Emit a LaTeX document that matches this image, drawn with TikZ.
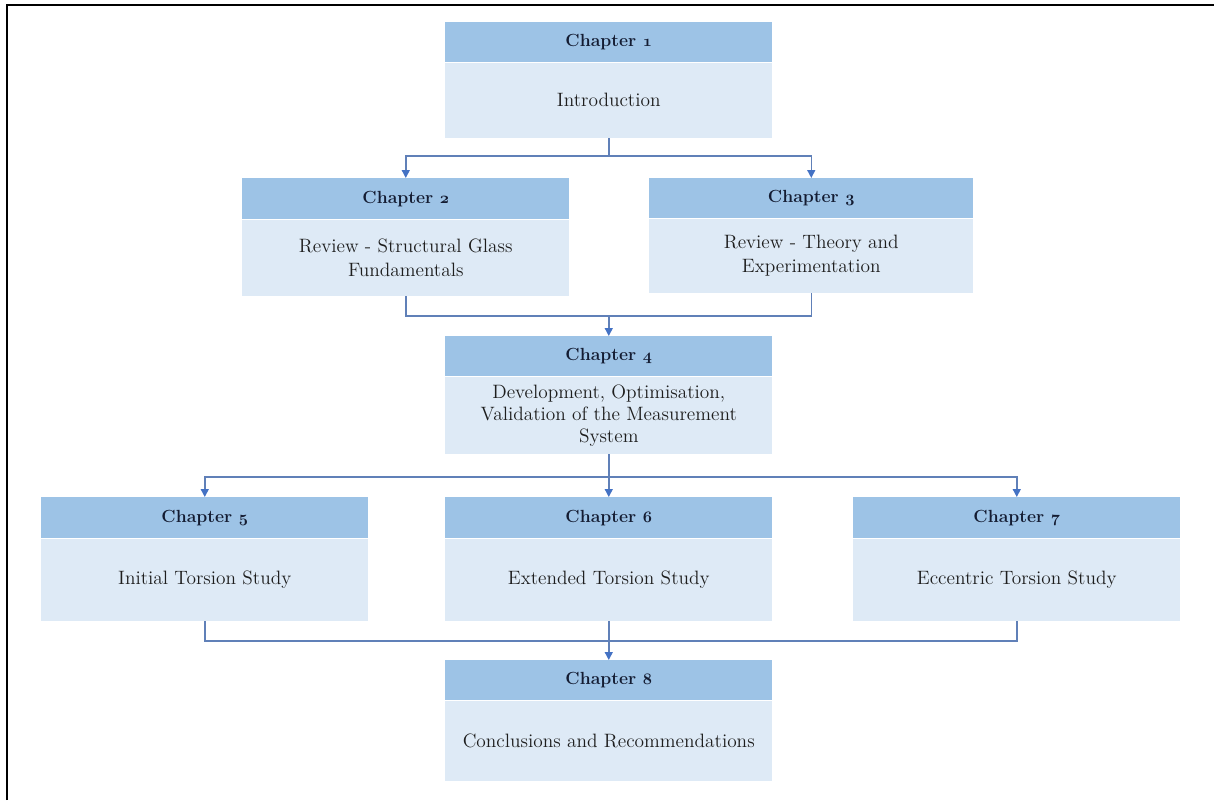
\documentclass[tikz,border=0pt]{standalone}
\usetikzlibrary{arrows.meta,positioning}
\definecolor{hdrc}{RGB}{157,195,230}
\definecolor{bodyc}{RGB}{222,234,246}
\definecolor{linec}{RGB}{96,128,184}
\definecolor{arrc}{RGB}{68,114,196}
\definecolor{hdrtext}{RGB}{20,28,50}
\definecolor{bodytext}{RGB}{30,30,30}
\newcommand\osnum[1]{{\usefont{OML}{cmm}{b}{it}#1}}
\tikzset{
  hdr/.style={rectangle, fill=hdrc, anchor=north west, inner sep=0pt,
    minimum height=30pt, text=hdrtext, align=center,
    font=\fontsize{13.2}{16}\selectfont\bfseries},
  bodybox/.style={rectangle, fill=bodyc, anchor=north west, inner sep=0pt,
    text=bodytext, align=center, font=\fontsize{14.5}{17.5}\selectfont},
  conn/.style={draw=linec, line width=1.1pt},
  arr/.style={conn, -{Triangle[width=6pt,length=6pt,fill=arrc,color=arrc]}},
}
\begin{document}
\begin{tikzpicture}[x=0.75pt,y=-0.75pt]
\useasboundingbox (0,0) rectangle (1214,800);
\draw[line width=2.2pt] (7,800) -- (7,5) -- (1214,5);

% Chapter 1
\node[hdr, minimum width=245.25pt] (h1) at (445,22) {Chapter \osnum{1}};
\node[bodybox, minimum width=245.25pt, minimum height=56.25pt] (b1) at (h1.south west) {Introduction};
% Chapter 2
\node[hdr, minimum width=245.25pt, minimum height=30.75pt] (h2) at (242,178) {Chapter \osnum{2}};
\node[bodybox, minimum width=245.25pt, minimum height=57pt] (b2) at (h2.south west) {Review - Structural Glass\\Fundamentals};
% Chapter 3
\node[hdr, minimum width=243pt] (h3) at (649,178) {Chapter \osnum{3}};
\node[bodybox, minimum width=243pt, minimum height=55.5pt] (b3) at (h3.south west) {Review - Theory and\\Experimentation};
% Chapter 4
\node[hdr, minimum width=245.25pt] (h4) at (445,336) {Chapter \osnum{4}};
\node[bodybox, minimum width=245.25pt, minimum height=57.75pt, font=\fontsize{14.5}{16.5}\selectfont] (b4) at (h4.south west) {Development, Optimisation,\\Validation of the Measurement\\System};
% Chapters 5-7
\node[hdr, minimum width=245.25pt, minimum height=30.75pt] (h5) at (41,497) {Chapter \osnum{5}};
\node[bodybox, minimum width=245.25pt, minimum height=61.5pt] (b5) at (h5.south west) {Initial Torsion Study};
\node[hdr, minimum width=245.25pt, minimum height=30.75pt] (h6) at (445,497) {Chapter \osnum{6}};
\node[bodybox, minimum width=245.25pt, minimum height=61.5pt] (b6) at (h6.south west) {Extended Torsion Study};
\node[hdr, minimum width=245.25pt, minimum height=30.75pt] (h7) at (853,497) {Chapter \osnum{7}};
\node[bodybox, minimum width=245.25pt, minimum height=61.5pt] (b7) at (h7.south west) {Eccentric Torsion Study};
% Chapter 8
\node[hdr, minimum width=245.25pt] (h8) at (445,660) {Chapter \osnum{8}};
\node[bodybox, minimum width=245.25pt, minimum height=60pt] (b8) at (h8.south west) {Conclusions and Recommendations};

% junctions
\coordinate (j1) at (b1.south |- 0,156);
\coordinate (j2) at (b1.south |- 0,316);
\coordinate (j3) at (b4.south |- 0,477);
\coordinate (j4) at (b4.south |- 0,641);

\draw[conn] (b1.south) -- (j1);
\draw[arr] (j1) -| (h2.north);
\draw[arr] (j1) -| (h3.north);

\draw[conn] (b2.south) |- (j2);
\draw[conn] (b3.south) |- (j2);
\draw[arr] (j2) -- (h4.north);

\draw[conn] (b4.south) -- (j3);
\draw[arr] (j3) -| (h5.north);
\draw[arr] (j3) -- (h6.north);
\draw[arr] (j3) -| (h7.north);

\draw[conn] (b5.south) |- (j4);
\draw[conn] (b7.south) |- (j4);
\draw[arr] (b6.south) -- (h8.north);
\end{tikzpicture}
\end{document}
